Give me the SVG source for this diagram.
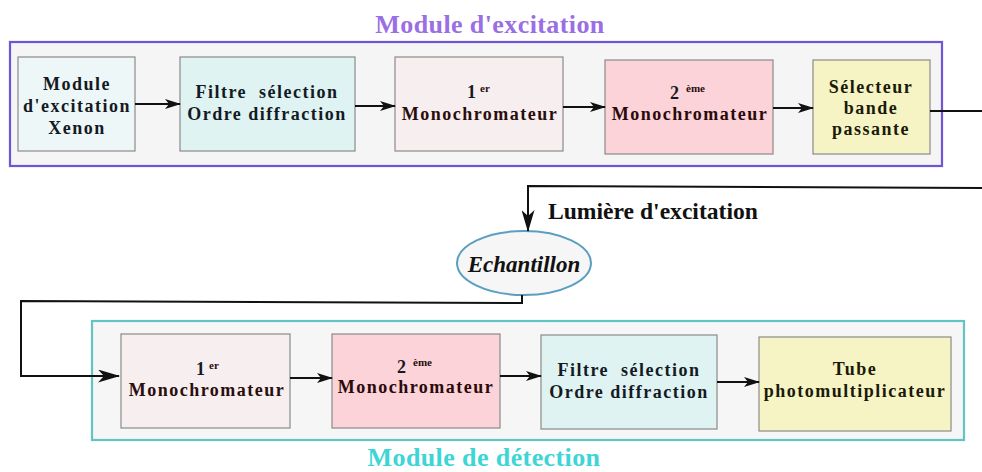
<svg xmlns="http://www.w3.org/2000/svg" width="982" height="472" viewBox="0 0 982 472">
<style>
.t{font-family:"Liberation Serif","Times New Roman",serif;font-weight:bold;font-size:18px;letter-spacing:1.5px;text-anchor:middle;fill:#141a24}
.s{font-family:"Liberation Serif","Times New Roman",serif;font-weight:bold;font-size:18px;fill:#141a24}
.sup{font-family:"Liberation Serif","Times New Roman",serif;font-weight:bold;font-size:11px;fill:#2a0d0d}
.b{stroke:#8a8a8a;stroke-width:1.2}
.c{fill:none;stroke:#111;stroke-width:2}
.title{font-family:"Liberation Serif","Times New Roman",serif;font-weight:bold;font-size:26px;letter-spacing:0.4px;text-anchor:middle}
</style>
<defs>
<marker id="a" markerUnits="userSpaceOnUse" markerWidth="16" markerHeight="10" refX="15" refY="5" orient="auto" viewBox="0 0 16 10">
<path d="M0,0 L16,5 L0,10 L4,5 z" fill="#111"/>
</marker>
<marker id="aL" markerUnits="userSpaceOnUse" markerWidth="22" markerHeight="13" refX="21" refY="6.5" orient="auto" viewBox="0 0 22 13">
<path d="M0,0 L22,6.5 L0,13 L6,6.5 z" fill="#111"/>
</marker>
</defs>
<rect width="982" height="472" fill="#fff"/>

<g id="module-excitation">
<text class="title" x="490" y="33" fill="#9a6ee4">Module d'excitation</text>
<rect x="10" y="42" width="932" height="124" fill="#f5f5f5" stroke="#6f55d6" stroke-width="2.2"/>
</g>
<g id="module-detection">
<rect x="92" y="321" width="872" height="119" fill="#f6f6f6" stroke="#62c4c4" stroke-width="2.2"/>
<text class="title" x="484" y="466" fill="#3dd5d6">Module de détection</text>
</g>

<g id="n-xenon">
<rect class="b" x="18" y="57" width="117" height="94" fill="#eef7f7"/>
<text class="t" x="77" y="90">Module</text>
<text class="t" x="77" y="112">d'excitation</text>
<text class="t" x="77" y="134">Xenon</text>
</g>
<g id="n-filtre1">
<rect class="b" x="180" y="57" width="175" height="94" fill="#dff3f2"/>
<text class="t" x="267" y="98">Filtre &#160;sélection</text>
<text class="t" x="267" y="120">Ordre diffraction</text>
</g>
<g id="n-mono1">
<rect class="b" x="395" y="57" width="168" height="94" fill="#f7efef"/>
<text class="s" x="467" y="98">1</text>
<text class="sup" x="480" y="92">er</text>
<text class="t" x="480" y="120" style="fill:#2a0d0d">Monochromateur</text>
</g>
<g id="n-mono2">
<rect class="b" x="605" y="60" width="168" height="94" fill="#fbd3d8"/>
<text class="s" x="670" y="99">2</text>
<text class="sup" x="686" y="92">ème</text>
<text class="t" x="690" y="120" style="fill:#2a0a0a">Monochromateur</text>
</g>
<g id="n-selecteur">
<rect class="b" x="813" y="60" width="117" height="94" fill="#f6f4c4"/>
<text class="t" x="871" y="93" style="fill:#1a1a0a">Sélecteur</text>
<text class="t" x="871" y="114" style="fill:#1a1a0a">bande</text>
<text class="t" x="871" y="135" style="fill:#1a1a0a">passante</text>
</g>

<g id="n-echantillon">
<ellipse cx="524" cy="263" rx="67" ry="32" fill="#f6f6f6" stroke="#5b9fc0" stroke-width="2"/>
<text x="524" y="272" text-anchor="middle" font-family="'Liberation Serif','Times New Roman',serif" font-weight="bold" font-style="italic" font-size="23" fill="#111">Echantillon</text>
</g>

<g id="n-mono1b">
<rect class="b" x="121" y="334" width="169" height="94" fill="#f7efef"/>
<text class="s" x="196" y="375">1</text>
<text class="sup" x="209" y="369">er</text>
<text class="t" x="207" y="396" style="fill:#2a0d0d">Monochromateur</text>
</g>
<g id="n-mono2b">
<rect class="b" x="332" y="334" width="168" height="94" fill="#fbd3d8"/>
<text class="s" x="397" y="373">2</text>
<text class="sup" x="413" y="366">ème</text>
<text class="t" x="416" y="393" style="fill:#2a0a0a">Monochromateur</text>
</g>
<g id="n-filtre2">
<rect class="b" x="541" y="335" width="176" height="94" fill="#dff3f2"/>
<text class="t" x="629" y="376">Filtre &#160;sélection</text>
<text class="t" x="629" y="398">Ordre diffraction</text>
</g>
<g id="n-tube">
<rect class="b" x="759" y="337" width="192" height="94" fill="#f6f4c4"/>
<text class="t" x="855" y="375" style="fill:#1a1a0a">Tube</text>
<text class="t" x="855" y="397" style="fill:#1a1a0a">photomultiplicateur</text>
</g>

<g id="connectors">
<line class="c" x1="135" y1="104" x2="180" y2="104" marker-end="url(#a)"/>
<line class="c" x1="355" y1="106" x2="395" y2="106" marker-end="url(#a)"/>
<line class="c" x1="563" y1="107" x2="605" y2="107" marker-end="url(#a)"/>
<line class="c" x1="773" y1="108" x2="813" y2="108" marker-end="url(#a)"/>
<line class="c" x1="930" y1="111" x2="982" y2="111"/>
<polyline class="c" points="982,188 528,186 528,231" marker-end="url(#aL)"/>
<text x="548" y="219" font-family="'Liberation Serif','Times New Roman',serif" font-weight="bold" font-size="23.6" fill="#111">Lumière d'excitation</text>
<polyline class="c" stroke-width="2.4" points="522,295 522,303 21,301 21,376 119,376" marker-end="url(#aL)"/>
<line class="c" x1="290" y1="378" x2="332" y2="378" marker-end="url(#a)"/>
<line class="c" x1="500" y1="376" x2="541" y2="376" marker-end="url(#a)"/>
<line class="c" x1="717" y1="382" x2="759" y2="382" marker-end="url(#a)"/>
</g>
</svg>
